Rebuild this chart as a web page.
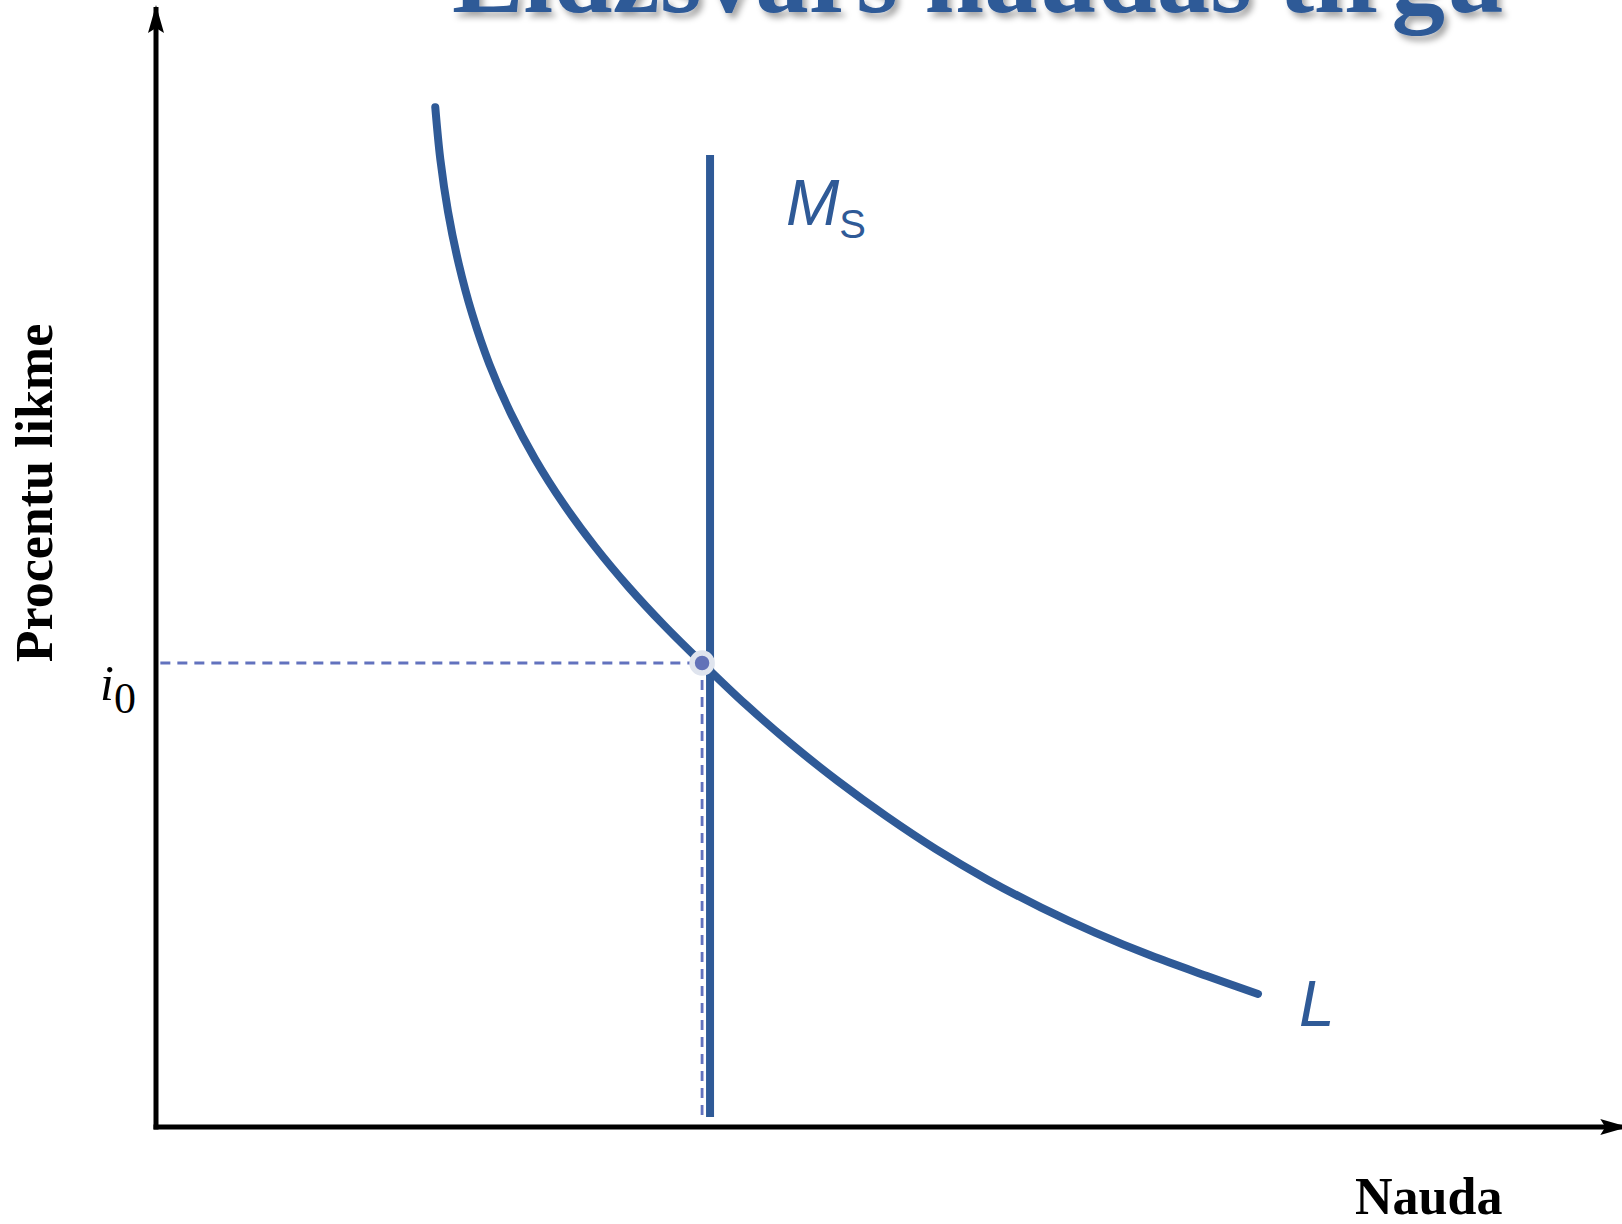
<!DOCTYPE html>
<html>
<head>
<meta charset="utf-8">
<script src="https://cdn.jsdelivr.net/npm/d3@7"></script>
<style>
  body { margin: 0; background: #fff; }
  svg { display: block; }
</style>
</head>
<body>
<script>
const { select, scaleLinear, line, curveCatmullRom, axisLeft, axisBottom } = d3;

// liquidity preference curve L (money, interest rate)
const liquidityMoney = [19.26, 19.61, 20.14, 20.87, 21.81, 22.99, 24.44, 26.15, 28.1, 30.26, 32.59, 35.07, 37.66,
                        40.66, 43.78, 47.02, 50.37, 53.81, 57.38, 61.05, 64.8, 68.61, 72.48, 76.0]
const liquidityRate  = [101.98, 96.74, 91.53, 86.37, 81.28, 76.29, 71.45, 66.78, 62.32, 58.06, 54.0, 50.12, 46.4,
                        42.27, 38.33, 34.6, 31.07, 27.76, 24.71, 21.94, 19.41, 17.14, 15.1, 13.3]

// vertical money supply Ms
const supplyMoney = [38.21, 38.21]
const supplyRate  = [97.2, 1.0]

// equilibrium point
const eqMoney = 37.66
const eqRate  = 46.4

const title = "Līdzsvars naudas tirgū"
const yTitle = "Procentu likme"
const xTitle = "Nauda"

const blue = '#2f5a97'
const dashBlue = '#6272be'

const width = 1622
const height = 1224

const svg = select('body')
    .append('svg')
    .attr('width', width)
    .attr('height', height)

const defs = svg.append('defs')

defs.append('filter')
    .attr('id', 'shadow')
    .attr('x', '-5%').attr('y', '-50%').attr('width', '110%').attr('height', '200%')
    .append('feDropShadow')
    .attr('dx', 4).attr('dy', 5)
    .attr('stdDeviation', 3)
    .attr('flood-color', '#000')
    .attr('flood-opacity', 0.35)

defs.append('marker')
    .attr('id', 'arrow')
    .attr('markerUnits', 'userSpaceOnUse')
    .attr('viewBox', '0 -10 28 20')
    .attr('refX', 26)
    .attr('refY', 0)
    .attr('markerWidth', 28)
    .attr('markerHeight', 20)
    .attr('orient', 'auto')
    .append('path')
    .attr('d', 'M0,-8L28,0L0,8L5,0Z')
    .attr('fill', '#000')

// scales
const xScale = scaleLinear()
    .domain([0, 101.4])
    .range([156, 156 + 101.4 * 14.5])

const yScale = scaleLinear()
    .domain([0, 112])
    .range([1127, 7])

// title (mostly cut off at the top)
svg.append('text')
   .attr('x', 452)
   .attr('y', 12)
   .attr('font-family', 'Liberation Serif')
   .attr('font-weight', 'bold')
   .attr('font-size', 107)
   .attr('fill', blue)
   .attr('filter', 'url(#shadow)')
   .text(title)

// dashed guides
const guide = line().x(d => xScale(d[0])).y(d => yScale(d[1]))

svg.append('path')
   .attr('d', guide([[0.3, eqRate], [eqMoney, eqRate]]))
   .attr('fill', 'none')
   .attr('stroke', dashBlue)
   .attr('stroke-width', 2.8)
   .attr('stroke-dasharray', '10,7')

svg.append('path')
   .attr('d', guide([[eqMoney, eqRate], [eqMoney, 1.0]]))
   .attr('fill', 'none')
   .attr('stroke', dashBlue)
   .attr('stroke-width', 2.8)
   .attr('stroke-dasharray', '10,7')

// axes
const yAxis = axisLeft(yScale).tickValues([]).tickSizeOuter(0)
const xAxis = axisBottom(xScale).tickValues([]).tickSizeOuter(0)

svg.append('g')
   .attr('transform', `translate(${xScale(0)},0)`)
   .call(yAxis)
   .select('.domain')
   .attr('d', `M0,${yScale(0) + 2.5}V${yScale(112)}`)
   .attr('stroke', '#000')
   .attr('stroke-width', 5)
   .attr('marker-end', 'url(#arrow)')

svg.append('g')
   .attr('transform', `translate(0,${yScale(0)})`)
   .call(xAxis)
   .select('.domain')
   .attr('d', `M${xScale(0) - 2.5},0H${xScale(101.4)}`)
   .attr('stroke', '#000')
   .attr('stroke-width', 5)
   .attr('marker-end', 'url(#arrow)')

// money supply
svg.append('path')
   .attr('d', guide(supplyMoney.map((m, i) => [m, supplyRate[i]])))
   .attr('fill', 'none')
   .attr('stroke', blue)
   .attr('stroke-width', 8)

// liquidity curve
const curve = line()
    .x(d => xScale(d[0]))
    .y(d => yScale(d[1]))
    .curve(curveCatmullRom.alpha(0.5))

svg.append('path')
   .attr('d', curve(liquidityMoney.map((m, i) => [m, liquidityRate[i]])))
   .attr('fill', 'none')
   .attr('stroke', blue)
   .attr('stroke-width', 8)
   .attr('stroke-linecap', 'round')

// equilibrium dot
svg.append('circle')
   .attr('cx', xScale(eqMoney))
   .attr('cy', yScale(eqRate))
   .attr('r', 10)
   .attr('fill', '#6272b8')
   .attr('stroke', '#dfe4ee')
   .attr('stroke-width', 5.5)

// labels
svg.append('text')
   .attr('transform', 'translate(52,493) rotate(-90)')
   .attr('text-anchor', 'middle')
   .attr('font-family', 'Liberation Serif')
   .attr('font-weight', 'bold')
   .attr('font-size', 52)
   .text(yTitle)

svg.append('text')
   .attr('x', 1355)
   .attr('y', 1214)
   .attr('font-family', 'Liberation Serif')
   .attr('font-weight', 'bold')
   .attr('font-size', 52)
   .text(xTitle)

const iLabel = svg.append('text')
   .attr('x', 100)
   .attr('y', 700)
   .attr('font-family', 'Liberation Serif')
iLabel.append('tspan').attr('font-style', 'italic').attr('font-size', 50).text('i')
iLabel.append('tspan').attr('font-size', 44).attr('dy', 13).text('0')

const msLabel = svg.append('text')
   .attr('x', 786)
   .attr('y', 225)
   .attr('font-family', 'Liberation Sans')
   .attr('fill', blue)
msLabel.append('tspan').attr('font-style', 'italic').attr('font-size', 64).text('M')
msLabel.append('tspan').attr('font-size', 40).attr('dy', 13).text('S')

svg.append('text')
   .attr('x', 1299)
   .attr('y', 1026)
   .attr('font-family', 'Liberation Sans')
   .attr('font-style', 'italic')
   .attr('font-size', 64)
   .attr('fill', blue)
   .text('L')
</script>
</body>
</html>
